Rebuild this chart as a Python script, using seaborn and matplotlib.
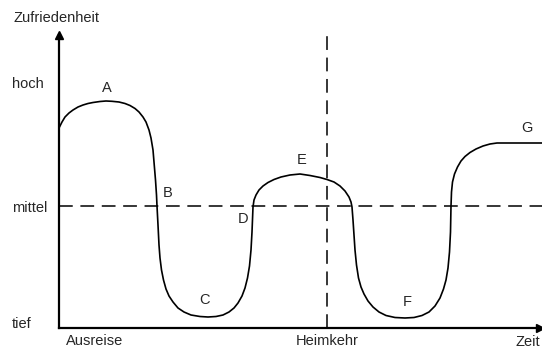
import matplotlib
matplotlib.use("Agg")
import matplotlib.pyplot as plt
import seaborn as sns
import pandas as pd

# Verlauf der Zufriedenheit (W-Kurve)
# (Zeit 0..481, Zufriedenheit 0..293, willkuerliche Einheiten)
zeit = [0, 3, 6, 10, 14, 19, 24, 29, 34, 41, 47, 53, 60, 66, 71, 76, 80, 84,
        87, 90, 92, 94, 95, 96.5, 97.5, 98,
        99, 100, 101, 102.5, 104.5, 107, 110, 114, 119, 125, 132, 141, 149,
        157, 164, 170, 175, 179, 183, 186, 188.5, 190.5, 192, 193, 194,
        195, 197, 200, 204, 209, 215, 222, 231, 241, 251, 261, 268, 275, 281,
        286, 290, 292, 293,
        294, 295, 296, 297.5, 299.5, 302, 305, 309, 314, 320, 327, 336, 346,
        355, 363, 370, 376, 381, 384.5, 387, 389, 390.5, 391.5, 392,
        392.5, 393.5, 395.5, 398.5, 402, 406, 411, 417, 424, 431, 438, 483]
zufriedenheit = [200, 206, 211, 215, 218, 221, 223, 224.5, 225.5, 226.5, 227,
                 226.7, 226, 224.5, 222.5, 219.5, 216, 211, 206, 198, 190, 178,
                 166, 148, 133, 122,
                 103, 83, 70, 58, 48, 39, 32, 26, 20, 16, 13, 11.5, 11, 11.5,
                 13, 16, 20, 25, 32, 40, 50, 62, 78, 96, 121,
                 128, 133, 138, 142, 145.5, 148.5, 151, 153, 154, 152.5, 150.5,
                 148.5, 146, 142, 137, 131, 126, 121,
                 108, 93, 78, 63, 50, 41, 34, 27, 21, 16, 12.5, 10.5, 10, 10.5,
                 12.5, 16, 22, 30, 39, 48, 60, 76, 96, 122,
                 136, 146, 154, 161, 167, 171.5, 175.5, 179, 182, 184, 185, 185]

# Punkte A-G
punkt_namen = ["A", "B", "C", "D", "E", "F", "G"]
punkt_x = [48, 109, 145, 184, 243, 348, 468]
punkt_y = [240, 135, 28, 109, 168, 26, 200]

niveau_labels = ["hoch", "mittel", "tief"]
niveau_werte = [246, 122, 6]
mittel = 122

zeit_labels = ["Ausreise", "Heimkehr"]
zeit_werte = [36, 268]
heimkehr = 268

df = pd.DataFrame({"Zeit": zeit, "Zufriedenheit": zufriedenheit})

sns.set_style("white")
plt.rcParams["font.family"] = ["Liberation Sans", "DejaVu Sans"]

fig = plt.figure(figsize=(5.42, 3.49), dpi=100)
ax = fig.add_axes([59 / 542, 21 / 349, 481 / 542, 293 / 349])

sns.lineplot(data=df, x="Zeit", y="Zufriedenheit", sort=False, color="black",
             linewidth=1.2, ax=ax, clip_on=False)

# Hilfslinien
ax.axhline(mittel, color="black", linewidth=1.1, dashes=(9, 5), xmax=1.01, clip_on=False)
ax.axvline(heimkehr, color="black", linewidth=1.1, dashes=(9, 5))

for name, px, py in zip(punkt_namen, punkt_x, punkt_y):
    ax.text(px, py, name, fontsize=10.5, ha="center", va="center")

ax.set_xlim(0, 481)
ax.set_ylim(0, 293)
ax.set_xlabel("")
ax.set_ylabel("")

ax.set_yticks(niveau_werte)
ax.set_yticklabels(niveau_labels, fontsize=10.5)
ax.tick_params(axis="y", length=0, pad=34)
for lbl in ax.get_yticklabels():
    lbl.set_horizontalalignment("left")

ax.set_xticks(zeit_werte)
ax.set_xticklabels(zeit_labels, fontsize=10.5)
ax.tick_params(axis="x", length=0, pad=4)

for side in ["top", "right"]:
    ax.spines[side].set_visible(False)
for side in ["left", "bottom"]:
    ax.spines[side].set_linewidth(1.6)
    ax.spines[side].set_color("black")

# Pfeile an den Achsen
ax.plot(1.0, 0, ">", color="black", markersize=6, transform=ax.transAxes, clip_on=False)
ax.plot(0, 1.0, "^", color="black", markersize=6, transform=ax.transAxes, clip_on=False)

fig.text(57 / 542, 1 - 18 / 349, "Zufriedenheit", fontsize=10.5, ha="center", va="center")
fig.text(540 / 542, 1 - 342 / 349, "Zeit", fontsize=10.5, ha="right", va="center")

fig.savefig("out.png", dpi=100)
